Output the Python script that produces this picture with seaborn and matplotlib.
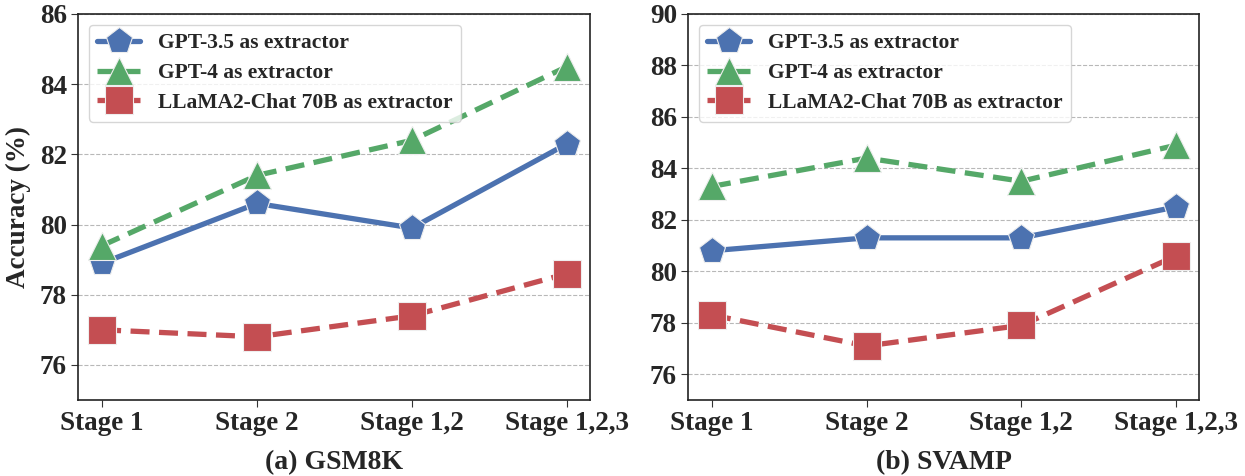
import pandas as pd
import numpy as np
import matplotlib
matplotlib.use("Agg")
import matplotlib.pyplot as plt
import seaborn as sns

# data
stages = ["Stage 1", "Stage 2", "Stage 1,2", "Stage 1,2,3"]
series = ["GPT-3.5 as extractor", "GPT-4 as extractor", "LLaMA2-Chat 70B as extractor"]

gsm_gpt35 = [78.9, 80.6, 79.9, 82.3]
gsm_gpt4 = [79.4, 81.4, 82.4, 84.5]
gsm_llama = [77.0, 76.8, 77.4, 78.6]

svamp_gpt35 = [80.8, 81.3, 81.3, 82.5]
svamp_gpt4 = [83.3, 84.4, 83.5, 84.9]
svamp_llama = [78.3, 77.1, 77.9, 80.6]

sns.set_style("ticks")
plt.rcParams["font.family"] = ["Liberation Serif", "DejaVu Serif"]
plt.rcParams["font.weight"] = "bold"

colors = sns.color_palette("deep")
palette = {series[0]: colors[0], series[1]: colors[2], series[2]: colors[3]}
markers = {series[0]: "p", series[1]: "^", series[2]: "s"}
dashes = {series[0]: "", series[1]: (3.6, 1.8), series[2]: (3.6, 1.8)}


def make_df(a, b, c):
    rows = []
    for name, vals in zip(series, [a, b, c]):
        for s, v in zip(stages, vals):
            rows.append({"Stage": s, "Accuracy": v, "Model": name})
    return pd.DataFrame(rows)


fig = plt.figure(figsize=(12.45, 4.76), dpi=100)
ax1 = fig.add_axes([0.0627, 0.1597, 0.4112, 0.811])
ax2 = fig.add_axes([0.5526, 0.1597, 0.4104, 0.811])

panels = [
    (ax1, make_df(gsm_gpt35, gsm_gpt4, gsm_llama), (75, 86), [76, 78, 80, 82, 84, 86], "(a) GSM8K"),
    (ax2, make_df(svamp_gpt35, svamp_gpt4, svamp_llama), (75, 90), [76, 78, 80, 82, 84, 86, 88, 90], "(b) SVAMP"),
]

for ax, df, ylim, yticks, title in panels:
    sns.lineplot(data=df, x="Stage", y="Accuracy", hue="Model", style="Model",
                 palette=palette, markers=markers, dashes=dashes,
                 linewidth=3.8, markersize=20, markeredgewidth=0.8,
                 markeredgecolor="#eeeeee", ax=ax)
    ax.set_ylim(*ylim)
    ax.set_yticks(yticks)
    ax.set_xlim(-0.155, 3.148)
    ax.grid(axis="y", linestyle="--", color="#b8b8b8", linewidth=0.8)
    ax.set_axisbelow(True)
    ax.tick_params(axis="both", labelsize=19.5, length=5, color="#333333", pad=3)
    for lab in ax.get_xticklabels() + ax.get_yticklabels():
        lab.set_fontweight("bold")
    for sp in ax.spines.values():
        sp.set_color("#222222")
        sp.set_linewidth(1.2)
    ax.set_xlabel(title, fontsize=20, fontweight="bold", labelpad=10)
    ax.set_ylabel("")
    leg = ax.legend(loc="upper left", prop={"weight": "bold", "size": 15.5},
                    frameon=True, borderaxespad=0.5, handlelength=2.0,
                    labelspacing=0.45, borderpad=0.4)
    leg.get_frame().set_edgecolor("#cccccc")

ax1.set_ylabel("Accuracy (%)", fontsize=19.5, fontweight="bold", labelpad=6)

fig.savefig("out.png", dpi=100)
